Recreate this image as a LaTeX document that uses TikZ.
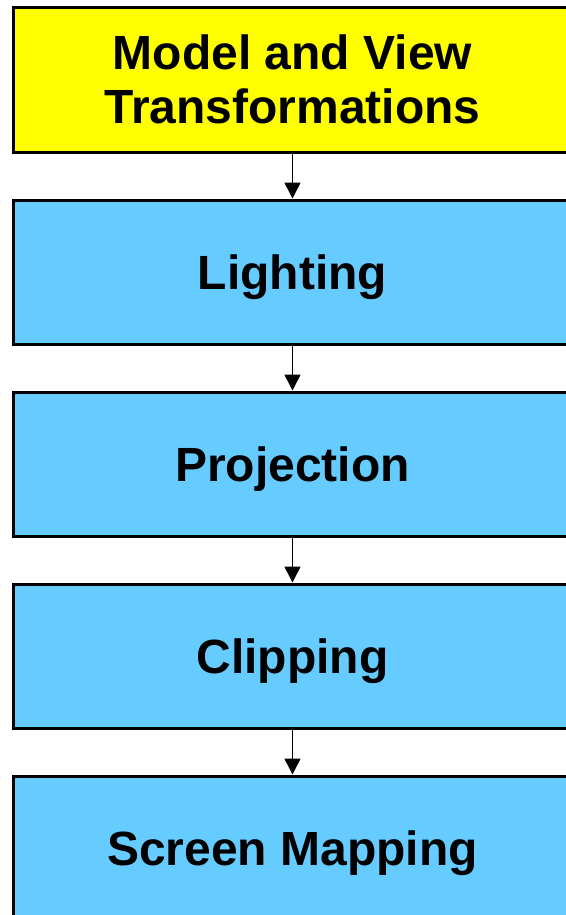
\documentclass[tikz,border=0pt]{standalone}
\usepackage{fontspec}
\setmainfont{Liberation Sans}
\usetikzlibrary{arrows.meta}
\definecolor{stageblue}{HTML}{66CCFF}
\definecolor{stageyellow}{HTML}{FFFF00}

\begin{document}
\begin{tikzpicture}[x=1pt,y=1pt]

      \useasboundingbox (0,0) rectangle (565,-915);

      \begin{scope}[every node/.style={draw,line width=3pt,fill=stageblue,
          minimum width=559pt,minimum height=144pt,inner sep=0pt,
          align=center,text height=34pt,text depth=0pt,
          font=\fontsize{48}{54}\selectfont\bfseries}]
        \node[fill=stageyellow,text height=88pt] (1) at (292.5,-80)
          {Model and View\\Transformations};
        \node (2) at (292.5,-272) {Lighting};
        \node (3) at (292.5,-464) {Projection};
        \node (4) at (292.5,-656) {Clipping};
        \node (5) at (292.5,-848) {Screen Mapping};
      \end{scope}

      \begin{scope}[every edge/.style={draw,line width=1.5pt,
          -{Triangle[width=16pt,length=16pt]}}]
        \path (1) edge (2);
        \path (2) edge (3);
        \path (3) edge (4);
        \path (4) edge (5);
      \end{scope}

    \end{tikzpicture}
\end{document}
